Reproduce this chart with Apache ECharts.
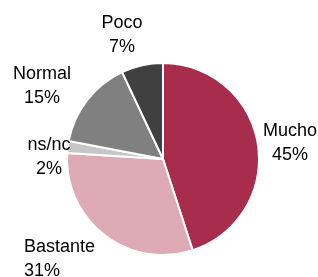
<!DOCTYPE html>
<html>
<head>
<meta charset="utf-8">
<script src="https://cdn.jsdelivr.net/npm/echarts@6/dist/echarts.min.js"></script>
<style>
  html, body { margin: 0; padding: 0; background: #fff; }
  #main { width: 318px; height: 277px; }
</style>
</head>
<body>
<div id="main"></div>
<script>
    // respuestas, en sentido horario desde arriba
    var categorias = ['Mucho', 'Bastante', 'ns/nc', 'Normal', 'Poco'];
    var valores = [45, 31, 2, 15, 7];
    var colores = ['#A82C4B', '#DEAAB6', '#C6C6C6', '#808080', '#404040'];

    // donde va cada etiqueta (centro del bloque de texto)
    var etiquetaX = [290, 24, 49, 42, 122];
    var etiquetaY = [143, 259, 157, 86, 35];
    var etiquetaAlign = ['center', 'left', 'center', 'center', 'center'];

    var datos = [];
    for (var i = 0; i < categorias.length; i++) {
        datos.push({ name: categorias[i], value: valores[i], itemStyle: { color: colores[i] } });
    }

    var myChart = echarts.init(document.getElementById('main'));
    var option = {
        animation: false,
        series: [
            {
                type: 'pie',
                center: [163, 159],
                radius: 96,
                startAngle: 90,
                clockwise: true,
                itemStyle: { borderColor: '#fff', borderWidth: 2 },
                label: {
                    show: true,
                    position: 'outside',
                    formatter: '{b}\n{d}%',
                    fontFamily: 'Liberation Sans, Arial, sans-serif',
                    fontSize: 18,
                    lineHeight: 24,
                    color: '#000',
                    overflow: 'none'
                },
                labelLine: { show: false },
                labelLayout: function (params) {
                    var k = params.dataIndex;
                    return {
                        x: etiquetaX[k],
                        y: etiquetaY[k],
                        align: etiquetaAlign[k],
                        verticalAlign: 'middle'
                    };
                },
                data: datos
            }
        ]
    };
    myChart.setOption(option);
</script>
</body>
</html>
